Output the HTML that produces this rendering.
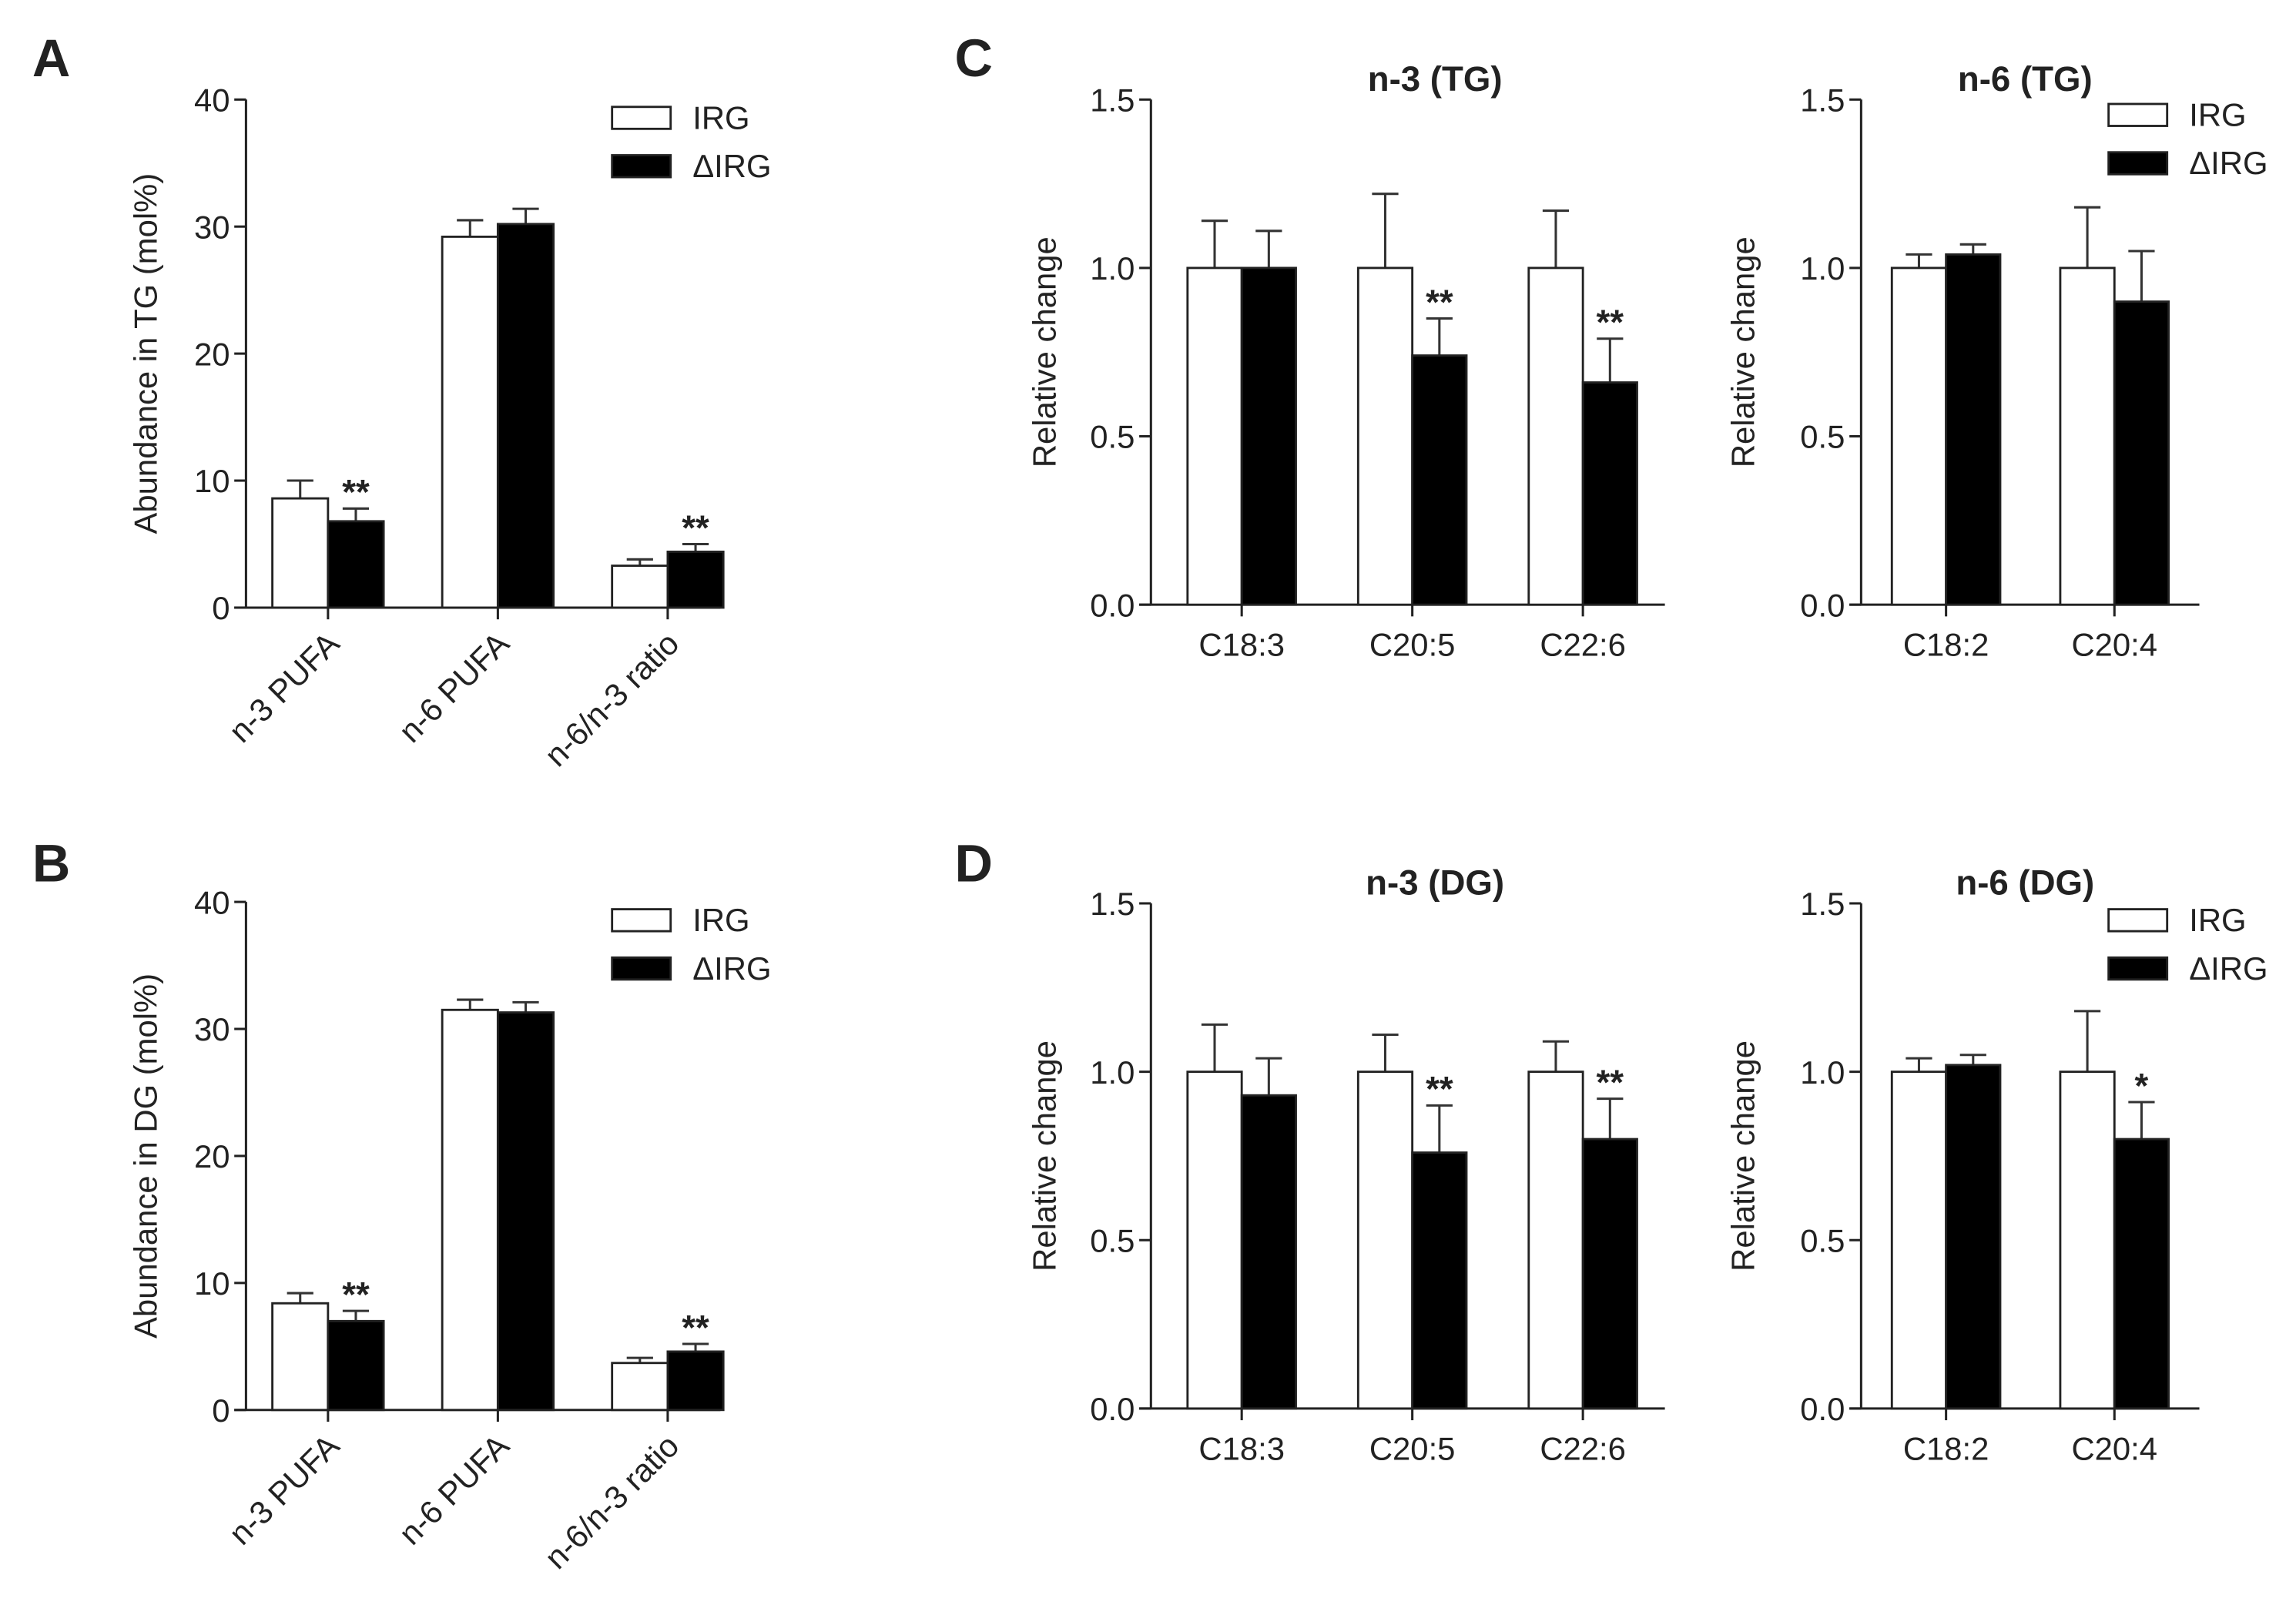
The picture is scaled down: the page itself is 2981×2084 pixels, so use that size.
<!DOCTYPE html>
<html><head><meta charset="utf-8"><style>
html,body{margin:0;padding:0;background:#fff;}
svg{display:block;}
text{font-family:"Liberation Sans",Arial,sans-serif;fill:#222;}
</style></head><body>
<svg id="fig" xmlns="http://www.w3.org/2000/svg" width="2981" height="2084" viewBox="0 0 1568 1096.2" preserveAspectRatio="none">
<text x="22" y="52" font-size="36" font-weight="bold">A</text>
<text x="22" y="602" font-size="36" font-weight="bold">B</text>
<text x="652" y="52" font-size="36" font-weight="bold">C</text>
<text x="652" y="602" font-size="36" font-weight="bold">D</text>
</svg>
<script>
// Panel A (TG abundance)
const catsAB = ["n-3 PUFA", "n-6 PUFA", "n-6/n-3 ratio"];
const aIRG = [8.6, 29.2, 3.3];
const aIRGerr = [1.4, 1.3, 0.5];
const aDIRG = [6.8, 30.2, 4.4];
const aDIRGerr = [1.0, 1.2, 0.6];
const aSig = ["**", "", "**"];
// Panel B (DG abundance)
const bIRG = [8.4, 31.5, 3.7];
const bIRGerr = [0.8, 0.8, 0.4];
const bDIRG = [7.0, 31.3, 4.6];
const bDIRGerr = [0.8, 0.8, 0.6];
const bSig = ["**", "", "**"];
const ticksAB = [0, 10, 20, 30, 40];
// Panel C / D
const catsN3 = ["C18:3", "C20:5", "C22:6"];
const catsN6 = ["C18:2", "C20:4"];
const ticksCD = ["0.0", "0.5", "1.0", "1.5"];
const cN3IRG = [1.0, 1.0, 1.0];
const cN3IRGerr = [0.14, 0.22, 0.17];
const cN3DIRG = [1.0, 0.74, 0.66];
const cN3DIRGerr = [0.11, 0.11, 0.13];
const cN3Sig = ["", "**", "**"];
const cN6IRG = [1.0, 1.0];
const cN6IRGerr = [0.04, 0.18];
const cN6DIRG = [1.04, 0.90];
const cN6DIRGerr = [0.03, 0.15];
const cN6Sig = ["", ""];
const dN3IRG = [1.0, 1.0, 1.0];
const dN3IRGerr = [0.14, 0.11, 0.09];
const dN3DIRG = [0.93, 0.76, 0.80];
const dN3DIRGerr = [0.11, 0.14, 0.12];
const dN3Sig = ["", "**", "**"];
const dN6IRG = [1.0, 1.0];
const dN6IRGerr = [0.04, 0.18];
const dN6DIRG = [1.02, 0.80];
const dN6DIRGerr = [0.03, 0.11];
const dN6Sig = ["", "*"];

const NS = "http://www.w3.org/2000/svg";
const svg = document.getElementById("fig");
function mk(tag, attrs, parent) {
  const e = document.createElementNS(NS, tag);
  for (const k in attrs) e.setAttribute(k, attrs[k]);
  (parent || svg).appendChild(e);
  return e;
}

function panel(o) {
  const g = mk("g", {});
  
  
  const yS = v => o.y0 - (v - o.ymin) / (o.ymax - o.ymin) * (o.y0 - o.ytop);
  const ya = mk("line", {x1: o.ax, y1: o.ytop, x2: o.ax, y2: o.y0, stroke: "#222", "stroke-width": 1.6}, g);
  
  
  o.ticks.forEach(t => {
    const y = yS(+t);
    mk("line", {x1: o.ax - 8, y1: y, x2: o.ax, y2: y, stroke: "#222", "stroke-width": 1.6}, g);
    const tl = mk("text", {x: o.ax - 11, y: y + 8, "font-size": 22, "text-anchor": "end"}, g);
    tl.textContent = t;
    
    
  });
  const yt = mk("text", {x: 0, y: 0, "font-size": 22, "text-anchor": "middle", transform: `translate(${o.ytx},${(o.ytop + o.y0) / 2}) rotate(-90)`}, g);
  yt.textContent = o.ytitle;
  
  
  const xa = mk("line", {x1: o.ax - 8, y1: o.y0, x2: o.xend, y2: o.y0, stroke: "#222", "stroke-width": 1.6}, g);
  
  
  o.cats.forEach((c, i) => {
    const cx = o.first + i * o.step;
    mk("line", {x1: cx, y1: o.y0, x2: cx, y2: o.y0 + 8, stroke: "#222", "stroke-width": 1.6}, g);
    const series = [[o.irg, o.irgErr, "#fff", cx - o.bw, "bar-irg"], [o.dirg, o.dirgErr, "#000", cx, "bar-delta-irg"]];
    series.forEach(([vals, errs, fill, x, nm]) => {
      const top = yS(vals[i]), et = yS(vals[i] + errs[i]);
      const mid = x + o.bw / 2;
      const el = mk("line", {x1: mid, y1: top, x2: mid, y2: et, stroke: "#333", "stroke-width": 1.6}, g);
      
      
      mk("line", {x1: mid - 9, y1: et, x2: mid + 9, y2: et, stroke: "#333", "stroke-width": 1.6}, g);
      const r = mk("rect", {x: x, y: top, width: o.bw, height: o.y0 - top, fill: fill, stroke: "#222", "stroke-width": 1.5}, g);
      
      
    });
    if (o.sig[i]) {
      const s = mk("text", {x: cx + o.bw / 2, y: yS(o.dirg[i] + o.dirgErr[i]) - 3, "font-size": 24, "font-weight": "bold", "text-anchor": "middle"}, g);
      s.textContent = o.sig[i];
      
      
    }
    let cl;
    if (o.rot) {
      cl = mk("text", {x: 0, y: 0, "font-size": 22, "text-anchor": "end", transform: `translate(${cx + 9},${o.y0 + 26}) rotate(-45)`}, g);
    } else {
      cl = mk("text", {x: cx, y: o.y0 + 35, "font-size": 22, "text-anchor": "middle"}, g);
    }
    cl.textContent = c;
    
    
  });
  if (o.title) {
    const t = mk("text", {x: o.titleX, y: o.ytop - 6, "font-size": 24, "font-weight": "bold", "text-anchor": "middle"}, g);
    t.textContent = o.title;
    
    
  }
  if (o.legX) {
    [["IRG", "#fff"], ["ΔIRG", "#000"]].forEach(([lab, f], k) => {
      const y = o.legY + k * 33;
      const lr = mk("rect", {x: o.legX, y: y - 7, width: 40, height: 15, fill: f, stroke: "#222", "stroke-width": 1.5}, g);
      
      
      const lt = mk("text", {x: o.legX + 55, y: y + 8, "font-size": 22}, g);
      lt.textContent = lab;
      
      
    });
  }
}

panel({name: "panel-a-chart", ax: 168, ytop: 68, y0: 415, ymin: 0, ymax: 40, ticks: ticksAB, ytx: 107, ytitle: "Abundance in TG (mol%)",
  xend: 492, cats: catsAB, first: 224, step: 116, bw: 38, irg: aIRG, irgErr: aIRGerr, dirg: aDIRG, dirgErr: aDIRGerr, sig: aSig, rot: true, legX: 418, legY: 80});
panel({name: "panel-b-chart", ax: 168, ytop: 616, y0: 963, ymin: 0, ymax: 40, ticks: ticksAB, ytx: 107, ytitle: "Abundance in DG (mol%)",
  xend: 492, cats: catsAB, first: 224, step: 116, bw: 38, irg: bIRG, irgErr: bIRGerr, dirg: bDIRG, dirgErr: bDIRGerr, sig: bSig, rot: true, legX: 418, legY: 628});
panel({name: "panel-c-n3-chart", ax: 786, ytop: 68, y0: 413, ymin: 0, ymax: 1.5, ticks: ticksCD, ytx: 721, ytitle: "Relative change",
  xend: 1137, cats: catsN3, first: 848, step: 116.5, bw: 37, irg: cN3IRG, irgErr: cN3IRGerr, dirg: cN3DIRG, dirgErr: cN3DIRGerr, sig: cN3Sig, title: "n-3 (TG)", titleX: 980});
panel({name: "panel-c-n6-chart", ax: 1271, ytop: 68, y0: 413, ymin: 0, ymax: 1.5, ticks: ticksCD, ytx: 1198, ytitle: "Relative change",
  xend: 1502, cats: catsN6, first: 1329, step: 115, bw: 37, irg: cN6IRG, irgErr: cN6IRGerr, dirg: cN6DIRG, dirgErr: cN6DIRGerr, sig: cN6Sig, title: "n-6 (TG)", titleX: 1383, legX: 1440, legY: 78});
panel({name: "panel-d-n3-chart", ax: 786, ytop: 617, y0: 962, ymin: 0, ymax: 1.5, ticks: ticksCD, ytx: 721, ytitle: "Relative change",
  xend: 1137, cats: catsN3, first: 848, step: 116.5, bw: 37, irg: dN3IRG, irgErr: dN3IRGerr, dirg: dN3DIRG, dirgErr: dN3DIRGerr, sig: dN3Sig, title: "n-3 (DG)", titleX: 980});
panel({name: "panel-d-n6-chart", ax: 1271, ytop: 617, y0: 962, ymin: 0, ymax: 1.5, ticks: ticksCD, ytx: 1198, ytitle: "Relative change",
  xend: 1502, cats: catsN6, first: 1329, step: 115, bw: 37, irg: dN6IRG, irgErr: dN6IRGerr, dirg: dN6DIRG, dirgErr: dN6DIRGerr, sig: dN6Sig, title: "n-6 (DG)", titleX: 1383, legX: 1440, legY: 628});
</script>
</body></html>
